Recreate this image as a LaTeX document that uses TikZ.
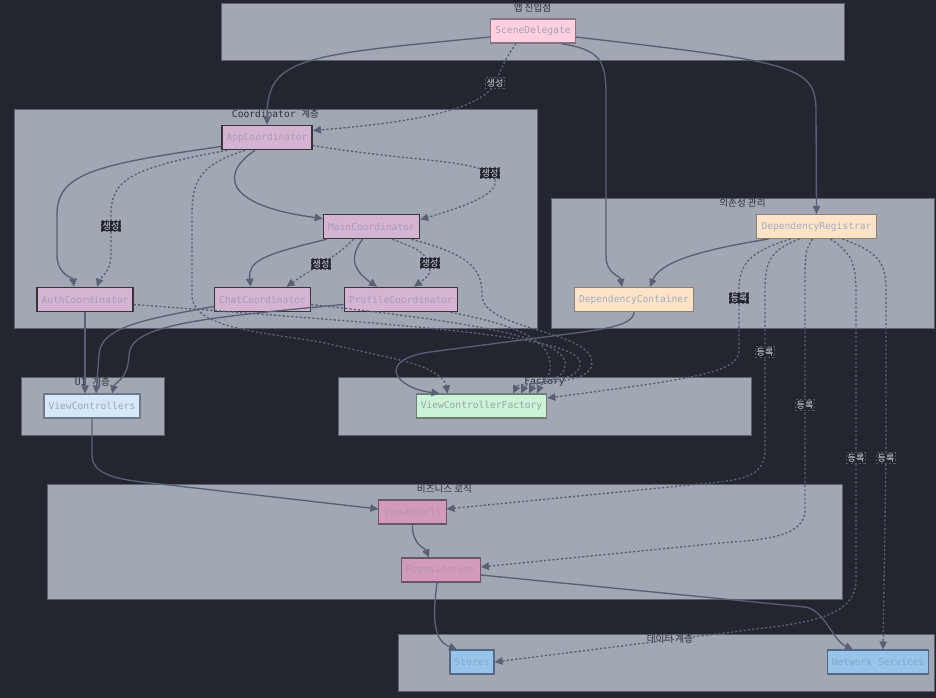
\documentclass[tikz,border=0pt]{standalone}
\usepackage{fontspec}
\setmonofont{DejaVu Sans Mono}
\newfontfamily\kr{Noto Sans CJK KR}
\usepackage{tikz}
\usetikzlibrary{arrows.meta,calc}
\definecolor{BgDark}{RGB}{35,38,46}
\definecolor{GroupFill}{RGB}{161,167,179}
\definecolor{GroupLine}{RGB}{90,97,110}
\definecolor{GroupText}{RGB}{45,48,56}
\definecolor{EdgeSlate}{RGB}{88,96,117}
\definecolor{LabelText}{RGB}{210,214,222}
\definecolor{LabelLine}{RGB}{80,85,95}
\definecolor{SceneFill}{RGB}{252,207,225}
\definecolor{SceneLine}{RGB}{140,115,128}
\definecolor{SceneText}{RGB}{170,160,176}
\definecolor{CoordFill}{RGB}{213,180,211}
\definecolor{CoordLine}{RGB}{55,52,58}
\definecolor{CoordText}{RGB}{168,156,184}
\definecolor{DepFill}{RGB}{253,227,200}
\definecolor{DepLine}{RGB}{140,128,118}
\definecolor{DepText}{RGB}{165,172,190}
\definecolor{UiFill}{RGB}{212,232,248}
\definecolor{UiLine}{RGB}{110,120,135}
\definecolor{UiText}{RGB}{160,168,180}
\definecolor{FacFill}{RGB}{204,242,216}
\definecolor{FacLine}{RGB}{110,125,118}
\definecolor{FacText}{RGB}{150,165,165}
\definecolor{BizFill}{RGB}{210,155,185}
\definecolor{BizLine}{RGB}{105,88,100}
\definecolor{BizText}{RGB}{185,150,172}
\definecolor{DataFill}{RGB}{152,196,234}
\definecolor{DataLine}{RGB}{85,105,135}
\definecolor{DataText}{RGB}{135,165,200}

\tikzset{
  group/.style={draw=GroupLine, fill=GroupFill, line width=0.6pt},
  grouplabel/.style={anchor=north, inner sep=1pt, text=GroupText, font=\ttfamily\fontsize{7.2}{8}\selectfont},
  box/.style={draw, line width=0.8pt, minimum height=18pt, inner xsep=3.5pt, inner ysep=0pt, font=\ttfamily\fontsize{7.2}{8}\selectfont},
  scenebox/.style={box, fill=SceneFill, draw=SceneLine, text=SceneText},
  coordbox/.style={box, fill=CoordFill, draw=CoordLine, line width=1.2pt, text=CoordText},
  depbox/.style={box, fill=DepFill, draw=DepLine, text=DepText},
  uibox/.style={box, fill=UiFill, draw=UiLine, text=UiText},
  facbox/.style={box, fill=FacFill, draw=FacLine, text=FacText},
  bizbox/.style={box, fill=BizFill, draw=BizLine, text=BizText},
  databox/.style={box, fill=DataFill, draw=DataLine, text=DataText},
  flow/.style={draw=EdgeSlate, line width=1pt, -{Triangle[length=6pt,width=5.5pt]}},
  dotflow/.style={flow, dash pattern=on 1.6pt off 1.6pt},
  lbl/.style={fill=BgDark, draw=LabelLine, line width=0.3pt, text=LabelText, inner sep=1pt, font=\kr\fontsize{6.8}{7}\selectfont}
}

\begin{document}
\begin{tikzpicture}[x=0.75pt, y=-0.75pt]
  % Canvas
  \fill[BgDark] (0,0) rectangle (936,698);

  % Subgraph frames
  \draw[group] (221,3) rectangle (844,60);
  \draw[group] (14,109) rectangle (537,328);
  \draw[group] (551,198) rectangle (934,328);
  \draw[group] (21,377) rectangle (164,435);
  \draw[group] (338,377) rectangle (751,435);
  \draw[group] (47,484) rectangle (842,599);
  \draw[group] (398,634) rectangle (934,691);

  \node[grouplabel] (gEntry) at (532.5,2) {{\kr 앱 진입점}};
  \node[grouplabel] (gCoord) at (275.5,108) {Coordinator {\kr 계층}};
  \node[grouplabel] (gDep) at (742.5,197) {{\kr 의존성 관리}};
  \node[grouplabel] (gUi) at (92.5,376) {UI {\kr 계층}};
  \node[grouplabel] (gFac) at (544.5,376) {Factory};
  \node[grouplabel] (gBiz) at (444.5,483) {{\kr 비즈니스 로직}};
  \node[grouplabel] (gData) at (670,633) {{\kr 데이터 계층}};

  % Components
  \node[scenebox] (scene) at (533,31) {SceneDelegate};
  \node[coordbox] (app) at (267,137.5) {AppCoordinator};
  \node[coordbox] (main) at (371.5,226.5) {MainCoordinator};
  \node[coordbox] (auth) at (85,299.5) {AuthCoordinator};
  \node[coordbox] (chat) at (262.5,299.5) {ChatCoordinator};
  \node[coordbox] (profile) at (401,299.5) {ProfileCoordinator};
  \node[depbox] (reg) at (816.5,226.5) {DependencyRegistrar};
  \node[depbox] (dcont) at (634,299.5) {DependencyContainer};
  \node[uibox] (vcs) at (92,406) {ViewControllers};
  \node[facbox] (fac) at (481.5,406) {ViewControllerFactory};
  \node[bizbox] (vm) at (412.5,512) {ViewModels};
  \node[bizbox] (rep) at (441,570) {Repositories};
  \node[databox] (stores) at (472,662) {Stores};
  \node[databox] (net) at (878,662) {Network Services};

  % From the entry point
  \draw[flow] ($(scene.west)+(0,6)$) .. controls (300,55) and (267,58) .. (app.north);
  \draw[dotflow] ($(scene.south)+(-17,0)$) .. controls (505,60) .. (495,83) node[lbl] {생성}
    .. controls (480,115) and (380,125) .. ($(app.east)+(0,-7)$);
  \draw[flow] ($(scene.south)+(28,0)$) .. controls (600,50) and (606,60) .. (606,95) -- (606,255)
    .. controls (606,275) and (620,275) .. ($(dcont.north)+(-12,0)$);
  \draw[flow] ($(scene.east)+(0,6)$) .. controls (790,62) and (816,65) .. (816,110) -- (reg.north);

  % Coordinator tree
  \draw[flow] ($(app.west)+(0,9)$) .. controls (90,165) and (57,175) .. (57,215) -- (57,255)
    .. controls (57,275) and (73,278) .. ($(auth.north)+(-11,0)$);
  \draw[dotflow] ($(app.south west)+(6,0)$) .. controls (130,168) and (111,180) .. (111,215)
    -- (111,226) node[lbl] {생성} -- (111,255) .. controls (111,272) and (100,278) .. ($(auth.north)+(12,0)$);
  \draw[flow] ($(app.south)+(-12,0)$) .. controls (222,172) and (220,205) .. ($(main.west)+(0,-8)$);
  \draw[dotflow] ($(app.east)+(0,8)$) .. controls (400,160) and (470,160) .. (490,173) node[lbl] {생성}
    .. controls (510,190) and (470,205) .. ($(main.east)+(0,-7)$);
  \draw[flow] ($(main.south west)+(4,0)$) .. controls (260,255) and (248,262) .. ($(chat.north)+(-12,0)$);
  \draw[dotflow] ($(main.south)+(-18,0)$) .. controls (340,252) .. (321,264) node[lbl] {생성}
    .. controls (305,274) .. ($(chat.north)+(24,0)$);
  \draw[flow] ($(main.south)+(-9,0)$) .. controls (345,262) and (360,275) .. ($(profile.north)+(-24,0)$);
  \draw[dotflow] ($(main.south)+(21,0)$) .. controls (420,250) .. (430,263) node[lbl] {생성}
    .. controls (430,275) .. ($(profile.north)+(13,0)$);

  % Coordinators to the UI layer
  \draw[flow] (auth.south) -- (auth.south |- vcs.north);
  \draw[flow] ($(chat.west)+(0,7)$) .. controls (140,320) and (100,328) .. (99,355) -- ($(vcs.north)+(4,0)$);
  \draw[flow] ($(profile.west)+(0,5)$) .. controls (200,318) and (130,325) .. (129,355)
    .. controls (128,380) and (115,382) .. ($(vcs.north)+(20,0)$);

  % Coordinators to the factory
  \draw[dotflow] ($(app.south)+(-22,0)$) .. controls (200,165) and (192,180) .. (192,215) -- (192,295)
    .. controls (192,328) and (260,332) .. (320,342) -- (400,360)
    .. controls (430,367) and (445,378) .. ($(fac.north)+(-34,0)$);
  \draw[dotflow] ($(main.south)+(40,0)$) .. controls (470,255) and (482,268) .. (482,295)
    .. controls (482,330) and (590,330) .. (592,362) .. controls (594,388) and (520,380) .. ($(fac.north)+(31.5,0)$);
  \draw[dotflow] ($(auth.east)+(0,5)$) .. controls (400,325) and (575,335) .. (580,362)
    .. controls (582,385) and (528,380) .. ($(fac.north)+(39.5,0)$);
  \draw[dotflow] ($(chat.east)+(0,5)$) .. controls (450,320) and (560,335) .. (565,362)
    .. controls (567,383) and (536,380) .. ($(fac.north)+(47.5,0)$);
  \draw[dotflow] ($(profile.south east)+(-8,0)$) .. controls (500,322) and (547,335) .. (550,362)
    .. controls (552,380) and (542,382) .. ($(fac.north)+(55.5,0)$);
  \draw[flow] (dcont.south) .. controls (634,326) and (600,330) .. (560,335) -- (430,352)
    .. controls (375,360) and (395,388) .. ($(fac.north)+(-42,0)$);

  % Registrations
  \draw[flow] ($(reg.south)+(-48,0)$) .. controls (700,250) and (660,262) .. ($(dcont.north)+(16,0)$);
  \draw[dotflow] ($(reg.south)+(-26,0)$) .. controls (748,252) and (739,265) .. (739,290)
    -- (739,298) node[lbl] {등록} -- (739,350) .. controls (739,372) and (700,378) .. ($(fac.east)+(0,-8)$);
  \draw[dotflow] ($(reg.south)+(-17,0)$) .. controls (770,250) and (765,262) .. (765,290)
    -- (765,352) node[lbl] {등록} -- (765,450) .. controls (765,478) and (740,480) .. (700,484)
    -- ($(vm.east)+(0,-3)$);
  \draw[dotflow] ($(reg.south)+(-4,0)$) .. controls (806,250) .. (805,270)
    -- (805,405) node[lbl] {등록} -- (805,510) .. controls (805,538) and (760,540) .. (720,543)
    -- ($(rep.east)+(0,-3)$);
  \draw[dotflow] ($(reg.south)+(14,0)$) .. controls (850,252) and (856,262) .. (856,290)
    -- (856,458) node[lbl] {등록} -- (856,580) .. controls (856,612) and (820,620) .. (780,626)
    -- (stores.east);
  \draw[dotflow] ($(reg.south)+(26,0)$) .. controls (878,252) and (886,262) .. (886,290)
    -- (886,458) node[lbl] {등록} -- ($(net.north)+(5,0)$);

  % Business logic and data
  \draw[flow] (vcs.south) -- (92,455) .. controls (92,476) and (120,480) .. (160,484) -- ($(vm.west)+(0,-3)$);
  \draw[flow] (vm.south) .. controls (412,545) and (425,548) .. ($(rep.north)+(-12,0)$);
  \draw[flow] ($(rep.south)+(-4,0)$) .. controls (433,615) and (432,640) .. ($(stores.north)+(-15,0)$);
  \draw[flow] ($(rep.east)+(0,5)$) -- (805,607) .. controls (825,610) and (832,640) .. ($(net.north)+(-25,0)$);
\end{tikzpicture}
\end{document}
